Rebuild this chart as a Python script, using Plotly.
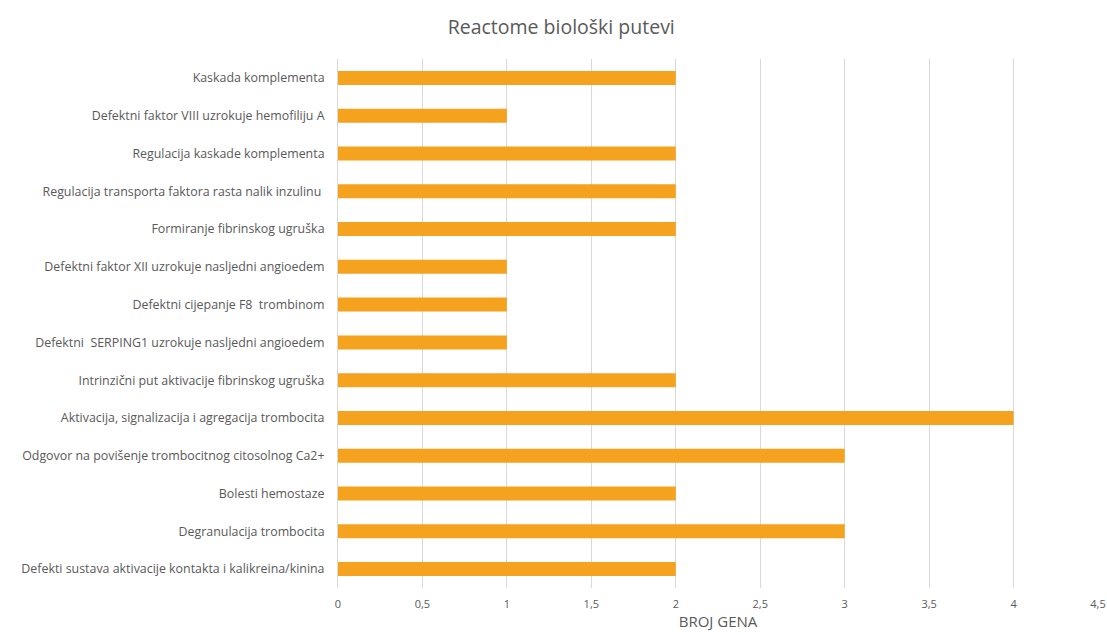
import plotly.graph_objects as go

# Reactome pathways (top to bottom) and gene counts
pathways = [
    "Kaskada komplementa",
    "Defektni faktor VIII uzrokuje hemofiliju A",
    "Regulacija kaskade komplementa",
    "Regulacija transporta faktora rasta nalik inzulinu ",
    "Formiranje fibrinskog ugruška",
    "Defektni faktor XII uzrokuje nasljedni angioedem",
    "Defektni cijepanje F8  trombinom",
    "Defektni  SERPING1 uzrokuje nasljedni angioedem",
    "Intrinzični put aktivacije fibrinskog ugruška",
    "Aktivacija, signalizacija i agregacija trombocita",
    "Odgovor na povišenje trombocitnog citosolnog Ca2+",
    "Bolesti hemostaze",
    "Degranulacija trombocita",
    "Defekti sustava aktivacije kontakta i kalikreina/kinina",
]
gene_counts = [2, 1, 2, 2, 2, 1, 1, 1, 2, 4, 3, 2, 3, 2]

x_ticks = [0, 0.5, 1, 1.5, 2, 2.5, 3, 3.5, 4, 4.5]

FONT = "Open Sans, Lato, sans-serif"
TEXT = "#595959"

fig = go.Figure(
    go.Bar(
        x=gene_counts,
        y=pathways,
        orientation="h",
        marker=dict(color="#F5A21F", line=dict(width=0)),
        width=0.37,
    )
)

fig.update_layout(
    width=1107,
    height=635,
    margin=dict(l=338, r=9, t=59, b=47, autoexpand=False),
    paper_bgcolor="white",
    plot_bgcolor="white",
    separators=", ",
    showlegend=False,
    font=dict(family=FONT, color=TEXT, size=11),
    title=dict(
        text="Reactome biološki putevi",
        x=0.507,
        xanchor="center",
        y=0.957,
        yanchor="middle",
        font=dict(family=FONT, size=19.5, color=TEXT),
    ),
)

fig.update_xaxes(
    range=[0, 4.5],
    tickvals=x_ticks,
    automargin=False,
    showgrid=True,
    gridcolor="#D9D9D9",
    gridwidth=1,
    zeroline=False,
    showline=False,
    ticks="",
    ticklabelstandoff=8,
    tickfont=dict(family=FONT, size=11, color=TEXT),
    title=dict(text="BROJ GENA", font=dict(family=FONT, size=15, color=TEXT), standoff=3),
)

fig.update_yaxes(
    categoryorder="array",
    categoryarray=pathways[::-1],
    autorange=True,
    automargin=False,
    showgrid=False,
    showline=True,
    linecolor="#D9D9D9",
    linewidth=1,
    ticks="",
    ticklabelstandoff=10,
    tickfont=dict(family=FONT, size=12.4, color=TEXT),
)

fig.write_html("out.html")
